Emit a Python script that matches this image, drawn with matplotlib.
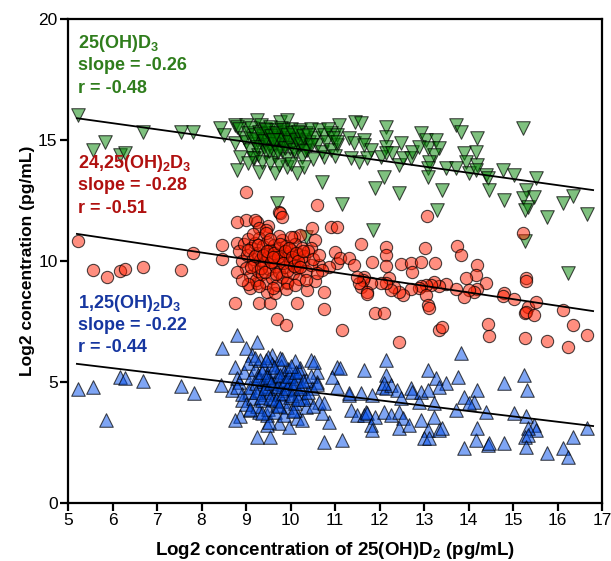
import matplotlib
matplotlib.use("Agg")
import matplotlib.pyplot as plt

plt.rcParams['font.family'] = ['Liberation Sans', 'DejaVu Sans']
plt.rcParams['mathtext.fontset'] = 'custom'
plt.rcParams['mathtext.rm'] = 'Liberation Sans'
plt.rcParams['mathtext.bf'] = 'Liberation Sans:bold'

# ---------------- data (x = log2 25(OH)D2, y = log2 metabolite) ----------------
green_points = [
    (5.23, 16.03), (5.57, 14.59), (5.83, 14.93), (6.16, 14.38), (6.28, 14.48), (6.68, 15.32), (7.54, 15.32),
    (7.82, 15.34), (8.42, 15.48), (8.5, 15.2), (8.76, 15.6), (8.76, 14.86), (8.8, 13.76), (9.29, 13.69),
    (9.7, 12.38), (10.71, 13.28), (9.25, 15.83), (9.77, 15.76), (9.93, 15.83), (8.99, 15.62), (8.8, 15.55),
    (11.09, 15.62), (11.46, 15.76), (9.66, 13.62), (10.15, 13.62), (9.93, 13.9), (8.87, 14.31), (9.17, 14.24),
    (10.75, 14.31), (11.35, 14.24), (11.16, 12.34), (10.34, 14.74), (10.34, 11.0),
    (11.58, 15.69), (12.14, 15.55), (10.9, 15.3), (11.05, 15.2), (11.05, 14.79), (11.31, 15.07), (11.43, 14.86),
    (11.65, 15.0), (11.65, 14.8), (11.8, 14.59), (12.14, 15.14), (12.14, 14.72), (11.54, 14.1), (11.73, 14.24),
    (12.03, 14.31), (12.14, 14.45), (12.29, 14.45), (12.48, 14.86), (12.44, 13.97), (12.52, 14.24), (12.7, 14.24),
    (12.74, 14.52), (12.93, 15.28), (13.04, 15.0), (12.89, 14.72), (13.08, 14.66), (13.26, 15.0), (13.34, 14.66),
    (13.23, 14.38), (13.11, 14.1), (13.08, 13.83), (13.08, 13.48), (13.49, 13.83), (13.72, 13.83), (13.72, 15.62),
    (13.83, 15.34), (14.2, 15.07), (13.9, 14.45), (14.17, 14.52), (13.94, 14.1), (14.2, 13.97), (14.01, 13.62),
    (14.17, 13.76), (14.39, 13.55), (14.43, 13.42), (14.77, 13.76), (15.03, 13.55), (15.22, 15.48), (15.52, 13.42),
    (12.1, 13.48), (11.91, 13.0), (12.44, 12.79), (13.41, 12.93), (13.3, 12.11), (11.86, 11.28), (14.47, 12.93),
    (14.8, 12.52), (15.3, 12.93), (15.22, 12.59), (15.33, 12.24), (15.48, 12.66), (15.26, 12.11), (16.12, 12.38),
    (16.34, 12.69), (15.77, 11.83), (16.66, 11.94), (15.27, 10.84), (16.23, 9.52),
    (8.85, 15.45), (8.95, 15.1), (9.0, 14.9), (9.05, 15.3), (9.1, 14.6), (9.12, 15.5), (9.2, 15.2), (9.22, 14.85),
    (9.25, 15.0), (9.28, 14.4), (9.3, 15.35), (9.33, 15.6), (9.35, 14.95), (9.38, 15.15), (9.4, 14.7), (9.42, 15.45),
    (9.45, 14.5), (9.48, 15.05), (9.5, 15.3), (9.52, 14.8), (9.55, 15.55), (9.58, 15.0), (9.6, 14.6), (9.62, 15.2),
    (9.65, 14.35), (9.68, 15.4), (9.7, 14.9), (9.72, 15.1), (9.75, 14.7), (9.78, 15.5), (9.8, 15.25), (9.82, 14.55),
    (9.85, 15.0), (9.88, 14.8), (9.9, 15.35), (9.92, 14.2), (9.95, 15.1), (9.98, 14.65), (10.0, 15.45), (10.05, 14.9),
    (10.08, 15.2), (10.1, 14.45), (10.15, 15.05), (10.2, 14.75), (10.22, 15.4), (10.25, 14.3), (10.3, 15.0),
    (10.35, 15.3), (10.38, 14.6), (10.42, 14.9), (10.45, 15.45), (10.5, 14.2), (10.55, 15.1), (10.6, 14.8),
    (10.65, 15.4), (10.7, 14.5), (10.75, 15.2), (10.8, 14.9), (10.85, 15.45), (10.9, 14.6), (10.95, 15.1),
    (11.0, 14.35), (11.05, 14.9), (9.15, 14.25), (9.35, 14.1), (9.55, 14.05), (9.75, 13.95), (10.0, 14.0),
    (10.3, 13.9), (9.05, 14.05),
    (9.15, 15.05), (9.25, 14.7), (9.32, 15.25), (9.4, 14.95), (9.46, 15.4), (9.52, 14.55), (9.57, 15.15),
    (9.63, 14.85), (9.67, 15.3), (9.73, 14.5), (9.77, 15.0), (9.83, 15.4), (9.87, 14.65), (9.93, 15.2),
    (9.97, 14.9), (10.03, 15.3), (10.07, 14.6), (10.12, 15.0), (10.17, 15.35), (10.23, 14.85), (10.28, 15.15),
    (10.33, 14.55), (10.4, 15.2), (10.47, 14.8), (9.6, 15.0),
]

red_points = [
    (5.23, 10.84), (5.57, 9.63), (5.87, 9.35), (6.16, 9.6), (6.28, 9.65), (6.68, 9.77), (7.54, 9.63), (7.82, 10.32),
    (8.46, 10.66), (8.46, 10.07), (8.8, 10.76), (8.76, 8.28), (9.1, 8.87), (9.29, 8.28), (9.55, 8.25), (10.15, 8.28),
    (9.7, 7.59), (9.89, 7.36), (10.75, 8.0), (10.56, 9.19), (10.75, 8.73), (11.05, 9.9), (8.99, 11.69), (9.25, 11.62),
    (9.5, 11.45), (10.56, 10.87), (10.9, 11.42), (9.0, 12.86), (10.6, 12.31), (9.74, 12.04),
    (9.77, 11.97), (9.81, 11.83), (9.21, 11.69), (8.8, 11.62), (9.29, 11.35), (9.44, 11.28), (10.49, 11.35),
    (11.05, 11.42), (10.07, 11.0), (10.22, 11.07), (10.45, 10.52), (11.01, 10.38), (11.12, 10.11), (11.31, 10.11),
    (10.64, 9.83), (10.86, 9.77), (10.71, 9.63), (9.47, 8.73), (9.66, 8.66), (10.37, 8.8), (9.93, 9.08), (9.25, 9.08),
    (13.06, 11.86), (11.58, 10.7), (12.14, 10.57), (12.14, 10.25), (13.02, 10.52), (13.74, 10.6), (13.83, 10.25),
    (15.22, 11.17), (11.84, 9.97), (12.14, 9.79), (12.48, 9.86), (12.7, 9.9), (12.94, 9.94), (13.24, 9.9),
    (12.74, 9.56), (14.2, 9.83), (11.43, 9.83), (15.29, 9.28),
    (14.17, 9.42), (13.94, 9.28), (14.39, 9.08), (14.2, 8.83), (14.12, 8.73), (14.01, 8.8), (13.9, 8.5), (13.72, 8.83),
    (13.49, 9.05), (13.34, 8.96), (13.23, 9.15), (13.15, 9.01), (13.04, 9.01), (12.93, 8.96), (12.89, 8.9),
    (13.04, 8.6), (13.08, 8.18), (13.11, 8.04), (12.7, 8.83), (12.52, 8.6), (12.44, 8.73), (12.33, 8.94),
    (12.25, 8.8), (12.21, 9.28), (12.14, 9.08), (12.03, 9.08), (11.8, 9.08), (11.65, 9.35), (11.62, 9.21),
    (11.58, 8.94), (11.54, 9.08), (11.73, 8.73), (11.73, 8.64), (11.5, 9.35), (11.91, 7.84), (12.1, 7.86),
    (11.16, 7.15), (12.44, 6.67), (13.34, 7.15), (13.41, 7.26), (14.8, 8.69), (14.77, 8.55), (15.03, 8.42),
    (15.29, 9.19), (15.33, 8.11), (15.26, 7.84), (15.29, 7.9), (15.48, 7.77), (15.52, 8.32), (14.43, 7.4),
    (14.47, 6.9), (15.27, 6.83), (15.77, 6.71), (16.12, 7.98), (16.34, 7.36), (16.24, 6.46), (16.66, 6.94),
    (8.85, 10.4), (8.9, 10.0), (8.95, 10.7), (9.0, 9.7), (9.02, 10.25), (9.05, 10.9), (9.1, 9.4), (9.12, 10.55),
    (9.15, 10.1), (9.18, 9.85), (9.2, 10.75), (9.22, 9.2), (9.25, 10.35), (9.28, 9.6), (9.3, 10.95), (9.32, 10.05),
    (9.35, 9.45), (9.38, 10.6), (9.4, 9.9), (9.42, 10.3), (9.45, 9.1), (9.48, 10.8), (9.5, 10.15), (9.52, 9.65),
    (9.55, 10.45), (9.58, 9.3), (9.6, 10.0), (9.62, 10.65), (9.65, 9.8), (9.68, 10.25), (9.7, 9.0), (9.72, 10.5),
    (9.75, 9.55), (9.78, 10.1), (9.8, 10.85), (9.82, 9.35), (9.85, 10.35), (9.88, 9.75), (9.9, 10.6), (9.92, 9.15),
    (9.95, 10.2), (9.98, 9.9), (10.0, 10.45), (10.05, 9.5), (10.08, 10.05), (10.1, 10.7), (10.15, 9.7),
    (10.18, 10.3), (10.2, 9.25), (10.25, 10.55), (10.28, 9.95), (10.3, 10.2), (10.35, 9.6), (10.4, 10.4),
    (10.45, 9.85), (10.5, 10.1), (9.05, 9.05), (9.3, 8.95), (9.6, 8.9), (9.9, 8.85), (10.1, 9.0), (10.35, 9.2),
    (9.15, 11.1), (9.45, 11.15), (9.75, 11.05), (10.0, 11.0), (8.8, 9.55), (8.9, 9.2), (10.6, 9.5), (10.65, 10.25),
    (9.05, 10.45), (9.12, 9.75), (9.2, 10.2), (9.27, 10.65), (9.33, 9.7), (9.38, 10.25), (9.43, 9.55), (9.48, 10.4),
    (9.53, 10.9), (9.57, 9.95), (9.63, 10.35), (9.67, 9.45), (9.73, 10.15), (9.77, 10.7), (9.83, 9.9), (9.87, 10.4),
    (9.93, 9.6), (9.97, 10.55), (10.03, 10.15), (10.07, 9.8), (10.12, 10.35), (10.17, 10.0), (10.22, 9.75),
    (10.27, 10.4), (9.6, 10.15),
]

blue_points = [
    (5.23, 4.7), (5.57, 4.81), (5.86, 3.43), (6.16, 5.22), (6.28, 5.15), (6.68, 5.04), (7.54, 4.83), (7.84, 4.56),
    (8.44, 4.88), (8.46, 6.39), (8.8, 6.94), (9.25, 6.67), (8.99, 6.39), (9.14, 6.12), (8.76, 5.63), (8.8, 5.15),
    (8.91, 4.26), (8.87, 3.6), (8.76, 3.43), (9.25, 2.74), (9.55, 2.74), (9.74, 3.29), (9.96, 3.15), (9.47, 3.22),
    (10.15, 3.5), (10.26, 3.43), (10.75, 2.53), (10.86, 3.36), (10.71, 3.71), (10.45, 5.91), (10.6, 5.43),
    (11.05, 5.63), (11.05, 4.81), (9.59, 6.12), (9.77, 5.98), (10.52, 5.84), (11.12, 5.57), (10.22, 5.57),
    (10.94, 5.22), (10.6, 5.01), (11.31, 4.46), (10.49, 4.74), (10.64, 4.19), (10.75, 4.12), (11.35, 3.84),
    (8.69, 4.67), (9.06, 4.6), (9.1, 3.84), (9.29, 3.77), (9.47, 3.64), (9.51, 3.36), (10.11, 3.84), (10.34, 3.98),
    (10.37, 4.4), (11.16, 2.6),
    (13.83, 6.19), (12.14, 5.91), (11.65, 5.5), (12.14, 5.29), (13.08, 5.5), (13.26, 5.15), (13.49, 4.95),
    (13.34, 4.81), (13.76, 5.22), (14.8, 4.97), (15.24, 5.29), (15.32, 4.67), (11.31, 4.53), (11.58, 4.53),
    (11.84, 4.46), (12.05, 4.81), (12.14, 4.74), (12.25, 4.88), (12.4, 4.67), (12.7, 4.74), (12.74, 4.6),
    (12.93, 4.6), (13.08, 4.67), (12.48, 4.33), (12.89, 4.19), (13.23, 4.12), (13.72, 3.84), (13.9, 4.4),
    (14.2, 4.67), (14.12, 4.19), (14.01, 4.12), (14.39, 3.77), (15.03, 3.71), (15.29, 3.6), (15.48, 3.22),
    (15.52, 3.02), (15.33, 3.09), (15.26, 2.74), (15.33, 2.81), (15.29, 2.33), (15.77, 2.08), (16.12, 2.26),
    (16.23, 1.91), (16.34, 2.71), (16.66, 3.09), (11.5, 3.64), (11.65, 3.64), (11.69, 3.77), (11.73, 3.71),
    (11.91, 3.57), (12.1, 3.77), (12.25, 3.64), (12.44, 3.77), (12.52, 3.5), (11.8, 3.22), (11.84, 3.02),
    (12.44, 3.09), (12.66, 3.22), (12.93, 3.43), (13.23, 3.57), (13.08, 3.02), (13.0, 2.67), (13.11, 2.67),
    (13.34, 3.02), (13.41, 3.09), (13.9, 2.29), (14.17, 2.6), (14.2, 3.09), (14.43, 2.4), (14.47, 2.49),
    (14.8, 2.49), (12.1, 4.95),
    (8.85, 5.0), (8.9, 4.5), (8.95, 5.4), (9.0, 4.1), (9.05, 5.8), (9.1, 4.8), (9.12, 5.2), (9.15, 4.35),
    (9.2, 5.55), (9.22, 4.95), (9.25, 4.0), (9.28, 5.3), (9.3, 4.65), (9.32, 5.9), (9.35, 4.25), (9.38, 5.05),
    (9.4, 5.6), (9.42, 4.5), (9.45, 4.85), (9.48, 5.35), (9.5, 3.9), (9.52, 5.15), (9.55, 4.6), (9.58, 5.75),
    (9.6, 4.3), (9.62, 5.0), (9.65, 5.45), (9.68, 4.75), (9.7, 4.05), (9.72, 5.25), (9.75, 4.5), (9.78, 5.65),
    (9.8, 4.9), (9.82, 4.2), (9.85, 5.4), (9.88, 4.65), (9.9, 5.1), (9.92, 3.95), (9.95, 5.55), (9.98, 4.4),
    (10.0, 5.0), (10.05, 4.7), (10.08, 5.3), (10.1, 4.15), (10.15, 5.15), (10.18, 4.55), (10.2, 5.45),
    (10.25, 4.85), (10.3, 4.3), (10.35, 5.1), (10.4, 4.6), (10.45, 5.25), (10.5, 4.0), (9.1, 3.9), (9.35, 3.7),
    (9.65, 3.75), (9.85, 3.65), (10.05, 3.8), (9.2, 6.0), (9.5, 6.05), (9.8, 5.95), (10.1, 5.85), (8.8, 4.8),
    (10.6, 4.9),
    (9.22, 4.6), (9.27, 5.15), (9.33, 4.4), (9.37, 5.4), (9.43, 4.75), (9.47, 5.2), (9.53, 4.35), (9.57, 4.95),
    (9.63, 5.6), (9.67, 4.25), (9.73, 4.85), (9.77, 5.3), (9.83, 4.55), (9.87, 5.05), (9.93, 4.75), (9.97, 5.25),
    (10.03, 4.45), (10.07, 4.95), (10.13, 5.4), (10.17, 4.3), (10.22, 4.75), (10.27, 5.05), (9.45, 5.9),
    (9.75, 4.0), (10.0, 5.65),
]

# regression lines (endpoints)
fit_x = [5.2, 16.8]
green_fit = [15.9, 12.93]
red_fit = [11.12, 7.93]
blue_fit = [5.75, 3.18]

labels = [
    (r'25(OH)D$_\mathbf{3}$', 'slope = -0.26', 'r = -0.48'),
    (r'24,25(OH)$_\mathbf{2}$D$_\mathbf{3}$', 'slope = -0.28', 'r = -0.51'),
    (r'1,25(OH)$_\mathbf{2}$D$_\mathbf{3}$', 'slope = -0.22', 'r = -0.44'),
]
label_colors = ['#2f7d1c', '#b0100f', '#1636a0']
label_y = [(19.1, 18.15, 17.22), (14.15, 13.2, 12.25), (8.35, 7.42, 6.5)]

# ---------------- figure ----------------
fig = plt.figure(figsize=(6.11, 5.61), dpi=100)
ax = fig.add_axes([68/611, 1-503/561, (602-68)/611, (503-19)/561])

gx, gy = zip(*green_points)
rx, ry = zip(*red_points)
bx, by = zip(*blue_points)

ax.scatter(gx, gy, marker='v', s=95, facecolor=(0.0, 0.52, 0.0, 0.5),
           edgecolor=(0, 0, 0, 0.7), linewidth=0.8, zorder=3)
ax.scatter(rx, ry, marker='o', s=78, facecolor=(1.0, 0.12, 0.0, 0.5),
           edgecolor=(0, 0, 0, 0.7), linewidth=0.8, zorder=3)
ax.scatter(bx, by, marker='^', s=95, facecolor=(0.0, 0.3, 0.92, 0.5),
           edgecolor=(0, 0, 0, 0.7), linewidth=0.8, zorder=3)

for fy in (green_fit, red_fit, blue_fit):
    ax.plot(fit_x, fy, color='black', lw=1.3, zorder=4)

for (t1, t2, t3), c, ys in zip(labels, label_colors, label_y):
    for t, yy in zip((t1, t2, t3), ys):
        ax.text(5.23, yy, t, color=c, fontsize=13, fontweight='bold',
                ha='left', va='center_baseline', zorder=5)

ax.set_xlim(5, 17)
ax.set_ylim(0, 20)
ax.set_xticks(range(5, 18))
ax.set_yticks([0, 5, 10, 15, 20])
for sp in ax.spines.values():
    sp.set_linewidth(1.6)
ax.tick_params(direction='out', length=5.5, width=1.6, labelsize=12.5, pad=2)
ax.set_xlabel(r'Log2 concentration of 25(OH)D$_\mathbf{2}$ (pg/mL)', fontsize=13.5,
              fontweight='bold', labelpad=8)
ax.set_ylabel('Log2 concentration (pg/mL)', fontsize=12.5, fontweight='bold', labelpad=2)

fig.savefig('out.png', dpi=100)
